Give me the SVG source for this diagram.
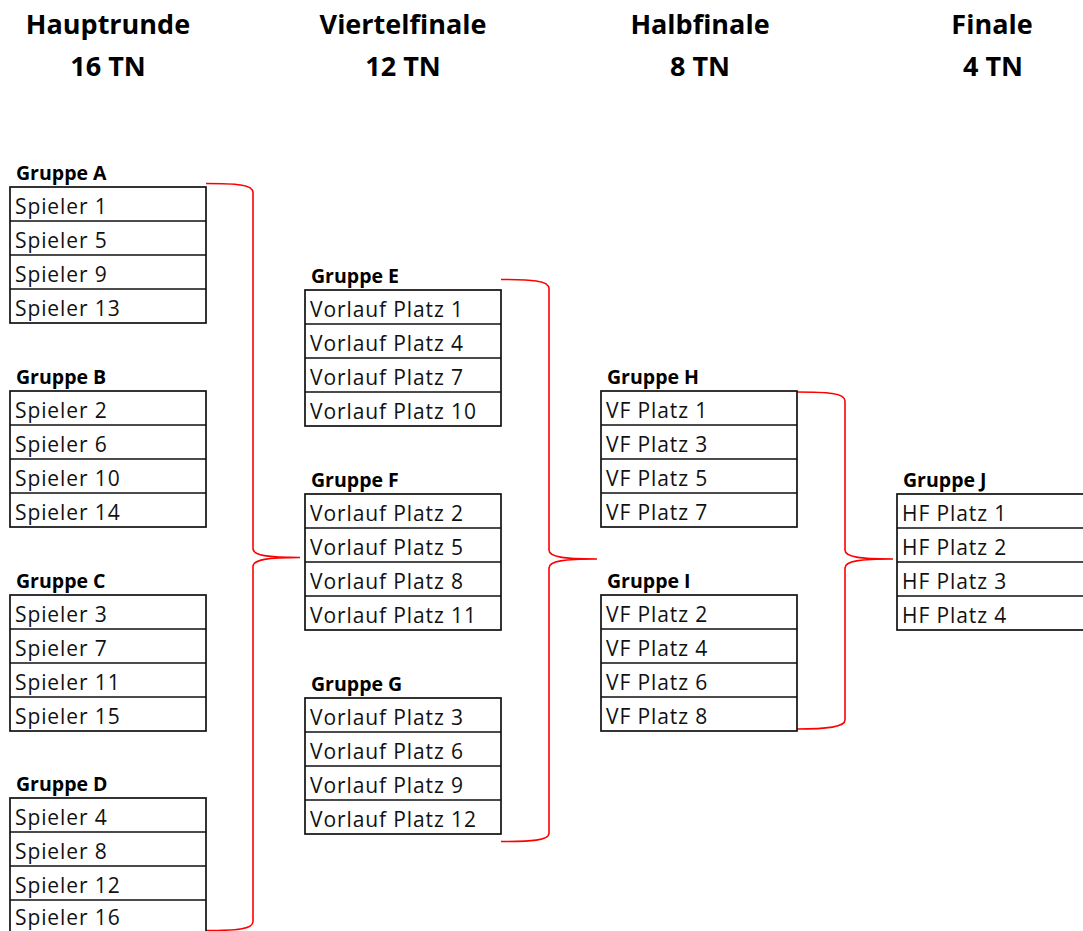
<svg xmlns="http://www.w3.org/2000/svg" width="1083" height="931" viewBox="0 0 1083 931">
<style>
.hd{font-family:"Open Sans","Liberation Sans",sans-serif;font-weight:bold;font-size:27px;fill:#000;text-anchor:middle}
.gt{font-family:"Open Sans","Liberation Sans",sans-serif;font-weight:bold;font-size:19.5px;fill:#000}
.ct{font-family:"Open Sans","Liberation Sans",sans-serif;font-size:21px;fill:#111;letter-spacing:0.9px}
.bx{fill:#fff;stroke:#111;stroke-width:1.7}
.ln{stroke:#111;stroke-width:1.7}
.br{fill:none;stroke:#ff0000;stroke-width:1.6}
</style>
<rect width="1083" height="931" fill="#fff"/>
<g id="headers">
<text class="hd" x="108" y="34">Hauptrunde</text><text class="hd" x="108" y="76">16 TN</text>
<text class="hd" x="403" y="34">Viertelfinale</text><text class="hd" x="403" y="76">12 TN</text>
<text class="hd" x="700" y="34">Halbfinale</text><text class="hd" x="700" y="76">8 TN</text>
<text class="hd" x="992" y="34">Finale</text><text class="hd" x="993" y="76">4 TN</text>
</g>
<g id="connectors">
<path class="br" d="M206,183.5 C236,183.5 253,184.5 253,192.5 L253,548.5 C253,555.5 268,557.5 300,557.5 C268,557.5 253,559.5 253,566.5 L253,921.5 C253,929.5 236,930.5 206,930.5"/>
<path class="br" d="M501,279.5 C531,279.5 549,280.5 549,288.5 L549,550 C549,557 564,559 597,559 C564,559 549,561 549,568 L549,833.5 C549,840.5 531,841.5 501,841.5"/>
<path class="br" d="M797,392 C827,392 845,393 845,401 L845,550 C845,557 860,559 893,559 C860,559 845,561 845,568 L845,720 C845,727 827,729 797,729"/>
</g>
<g id="gruppe-a" transform="translate(10,187)">
<text class="gt" x="6" y="-7">Gruppe A</text>
<rect class="bx" x="0" y="0" width="196" height="136"/>
<path class="ln" d="M0,34H196M0,68H196M0,102H196"/>
<text class="ct" x="5" y="27">Spieler 1</text><text class="ct" x="5" y="61">Spieler 5</text><text class="ct" x="5" y="95">Spieler 9</text><text class="ct" x="5" y="129">Spieler 13</text>
</g>
<g id="gruppe-b" transform="translate(10,391)">
<text class="gt" x="6" y="-7">Gruppe B</text>
<rect class="bx" x="0" y="0" width="196" height="136"/>
<path class="ln" d="M0,34H196M0,68H196M0,102H196"/>
<text class="ct" x="5" y="27">Spieler 2</text><text class="ct" x="5" y="61">Spieler 6</text><text class="ct" x="5" y="95">Spieler 10</text><text class="ct" x="5" y="129">Spieler 14</text>
</g>
<g id="gruppe-c" transform="translate(10,595)">
<text class="gt" x="6" y="-7">Gruppe C</text>
<rect class="bx" x="0" y="0" width="196" height="136"/>
<path class="ln" d="M0,34H196M0,68H196M0,102H196"/>
<text class="ct" x="5" y="27">Spieler 3</text><text class="ct" x="5" y="61">Spieler 7</text><text class="ct" x="5" y="95">Spieler 11</text><text class="ct" x="5" y="129">Spieler 15</text>
</g>
<g id="gruppe-d" transform="translate(10,798)">
<text class="gt" x="6" y="-7">Gruppe D</text>
<rect class="bx" x="0" y="0" width="196" height="136"/>
<path class="ln" d="M0,34H196M0,68H196M0,102H196"/>
<text class="ct" x="5" y="27">Spieler 4</text><text class="ct" x="5" y="61">Spieler 8</text><text class="ct" x="5" y="95">Spieler 12</text><text class="ct" x="5" y="127">Spieler 16</text>
</g>
<g id="gruppe-e" transform="translate(305,290)">
<text class="gt" x="6" y="-7">Gruppe E</text>
<rect class="bx" x="0" y="0" width="196" height="136"/>
<path class="ln" d="M0,34H196M0,68H196M0,102H196"/>
<text class="ct" x="5" y="27">Vorlauf Platz 1</text><text class="ct" x="5" y="61">Vorlauf Platz 4</text><text class="ct" x="5" y="95">Vorlauf Platz 7</text><text class="ct" x="5" y="129">Vorlauf Platz 10</text>
</g>
<g id="gruppe-f" transform="translate(305,494)">
<text class="gt" x="6" y="-7">Gruppe F</text>
<rect class="bx" x="0" y="0" width="196" height="136"/>
<path class="ln" d="M0,34H196M0,68H196M0,102H196"/>
<text class="ct" x="5" y="27">Vorlauf Platz 2</text><text class="ct" x="5" y="61">Vorlauf Platz 5</text><text class="ct" x="5" y="95">Vorlauf Platz 8</text><text class="ct" x="5" y="129">Vorlauf Platz 11</text>
</g>
<g id="gruppe-g" transform="translate(305,698)">
<text class="gt" x="6" y="-7">Gruppe G</text>
<rect class="bx" x="0" y="0" width="196" height="136"/>
<path class="ln" d="M0,34H196M0,68H196M0,102H196"/>
<text class="ct" x="5" y="27">Vorlauf Platz 3</text><text class="ct" x="5" y="61">Vorlauf Platz 6</text><text class="ct" x="5" y="95">Vorlauf Platz 9</text><text class="ct" x="5" y="129">Vorlauf Platz 12</text>
</g>
<g id="gruppe-h" transform="translate(601,391)">
<text class="gt" x="6" y="-7">Gruppe H</text>
<rect class="bx" x="0" y="0" width="196" height="136"/>
<path class="ln" d="M0,34H196M0,68H196M0,102H196"/>
<text class="ct" x="5" y="27">VF Platz 1</text><text class="ct" x="5" y="61">VF Platz 3</text><text class="ct" x="5" y="95">VF Platz 5</text><text class="ct" x="5" y="129">VF Platz 7</text>
</g>
<g id="gruppe-i" transform="translate(601,595)">
<text class="gt" x="6" y="-7">Gruppe I</text>
<rect class="bx" x="0" y="0" width="196" height="136"/>
<path class="ln" d="M0,34H196M0,68H196M0,102H196"/>
<text class="ct" x="5" y="27">VF Platz 2</text><text class="ct" x="5" y="61">VF Platz 4</text><text class="ct" x="5" y="95">VF Platz 6</text><text class="ct" x="5" y="129">VF Platz 8</text>
</g>
<g id="gruppe-j" transform="translate(897,494)">
<text class="gt" x="6" y="-7">Gruppe J</text>
<rect class="bx" x="0" y="0" width="200" height="136"/>
<path class="ln" d="M0,34H200M0,68H200M0,102H200"/>
<text class="ct" x="5" y="27">HF Platz 1</text><text class="ct" x="5" y="61">HF Platz 2</text><text class="ct" x="5" y="95">HF Platz 3</text><text class="ct" x="5" y="129">HF Platz 4</text>
</g>
</svg>
